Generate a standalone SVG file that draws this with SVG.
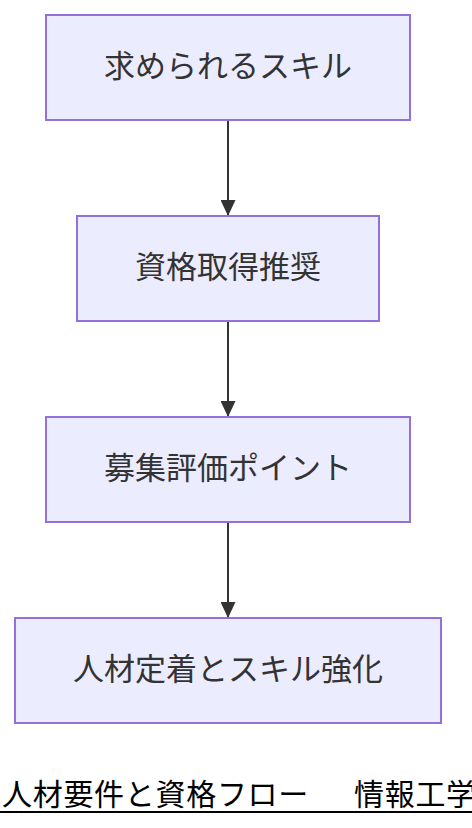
<svg xmlns="http://www.w3.org/2000/svg" width="472" height="828" viewBox="0 0 472 828">
<style>
.node rect{fill:#ECECFF;stroke:#9370DB;stroke-width:2}
.node text{font-family:"Noto Sans CJK JP","Noto Sans",sans-serif;font-size:31px;fill:#333;text-anchor:middle}
.edge{stroke:#333;stroke-width:2;fill:none}
.title{font-family:"Noto Sans CJK JP","Noto Sans",sans-serif;font-size:30px;letter-spacing:0.7px;fill:#000}
</style>
<defs>
<marker id="arrow" markerUnits="userSpaceOnUse" markerWidth="16" markerHeight="15" refX="16" refY="7.5" orient="auto" viewBox="0 0 16 15">
<path d="M0,0 L16,7.5 L0,15 Z" fill="#333"/>
</marker>
</defs>
<g id="edges">
<path class="edge" d="M228,120 L228,216" marker-end="url(#arrow)"/>
<path class="edge" d="M228,321 L228,417" marker-end="url(#arrow)"/>
<path class="edge" d="M228,522 L228,618" marker-end="url(#arrow)"/>
</g>
<g id="n1" class="node"><rect x="46" y="15" width="364" height="105"/><text x="228" y="76.5">求められるスキル</text></g>
<g id="n2" class="node"><rect x="77" y="216" width="302" height="105"/><text x="228" y="277.5">資格取得推奨</text></g>
<g id="n3" class="node"><rect x="46" y="417" width="364" height="105"/><text x="228" y="478.5">募集評価ポイント</text></g>
<g id="n4" class="node"><rect x="15" y="618" width="426" height="105"/><text x="228" y="679.5">人材定着とスキル強化</text></g>
<g id="title">
<text class="title" y="805"><tspan x="2">人材要件と資格フロー</tspan><tspan x="354">情報工学</tspan></text>
<rect x="0" y="811" width="472" height="2" fill="#000"/>
</g>
</svg>
